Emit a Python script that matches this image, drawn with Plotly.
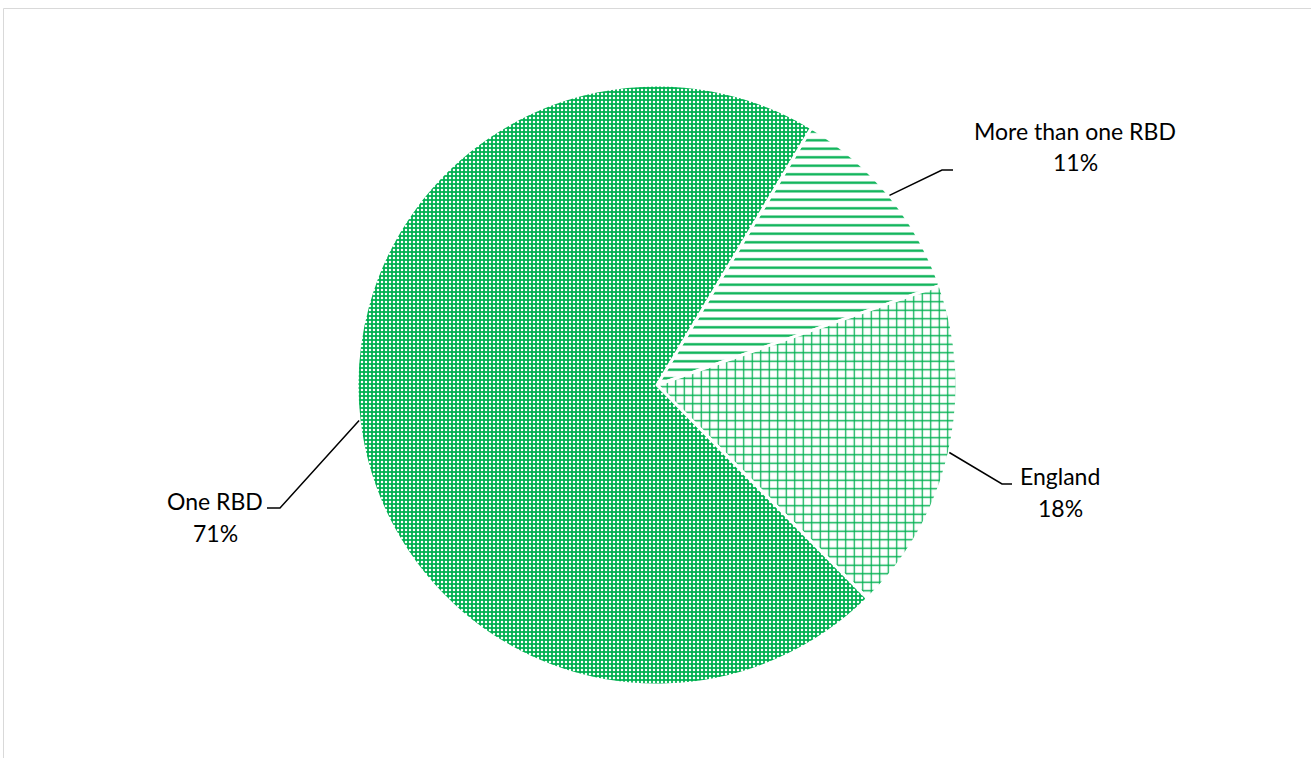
import math
import plotly.graph_objects as go

# Share of records by geographic scope
labels = ["More than one RBD", "England", "One RBD"]
values = [11, 18, 71]
patterns = ["-", "+", "."]
pattern_sizes = [8.5, 8.5, 4]
pattern_solidity = [0.27, 0.27, 0.3]

W, H = 1311, 758
GREEN = "#00B050"
fg_colors = [GREEN, GREEN, "white"]
bg_colors = ["white", "white", GREEN]

# pie placement in pixels
cx, cy, r = 657, 385, 300
rotation = 31

fig = go.Figure()
fig.add_trace(go.Pie(
    labels=labels,
    values=values,
    sort=False,
    direction="clockwise",
    rotation=rotation,
    textinfo="none",
    hoverinfo="label+percent",
    showlegend=False,
    domain=dict(x=[(cx - r) / W, (cx + r) / W], y=[1 - (cy + r) / H, 1 - (cy - r) / H]),
    marker=dict(
        colors=bg_colors,
        line=dict(color="white", width=3),
        pattern=dict(
            shape=patterns,
            fgcolor=fg_colors,
            bgcolor=bg_colors,
            size=pattern_sizes,
            solidity=pattern_solidity,
        ),
    ),
))


def px(x, y):
    return x / W, 1 - y / H


# label layout: (elbow x, elbow y, horizontal end x, text centre x, name y, pct y)
label_layout = {
    "More than one RBD": (942, 170, 953, 1075, 131, 162),
    "England": (1002, 484, 1012, 1060, 476, 508),
    "One RBD": (280, 508, 267, 215, 501, 533),
}

shapes = []
annotations = []
total = sum(values)
start = rotation
for lab, val in zip(labels, values):
    span = 360 * val / total
    mid = math.radians(start + span / 2)
    start += span
    sx = cx + r * math.sin(mid)
    sy = cy - r * math.cos(mid)
    ex, ey, hx, tx, ny, py = label_layout[lab]
    path = "M {} {} L {} {} L {} {}".format(*px(sx, sy), *px(ex, ey), *px(hx, ey))
    shapes.append(dict(type="path", xref="paper", yref="paper", path=path,
                       line=dict(color="black", width=1.5)))
    for txt, yy in ((lab, ny), (f"{round(100 * val / total)}%", py)):
        x0, y0 = px(tx, yy)
        annotations.append(dict(x=x0, y=y0, xref="paper", yref="paper", text=txt,
                                showarrow=False, xanchor="center", yanchor="middle",
                                font=dict(family="Lato", size=23, color="black")))

# chart area border
shapes.append(dict(type="rect", xref="paper", yref="paper",
                   x0=3.5 / W, y0=-0.05, x1=1.05, y1=1 - 8.5 / H,
                   line=dict(color="#d9d9d9", width=1), fillcolor="rgba(0,0,0,0)"))

fig.update_layout(
    width=W, height=H, autosize=False,
    margin=dict(l=0, r=0, t=0, b=0),
    paper_bgcolor="white", plot_bgcolor="white",
    shapes=shapes, annotations=annotations,
)

fig.write_html("out.html")
